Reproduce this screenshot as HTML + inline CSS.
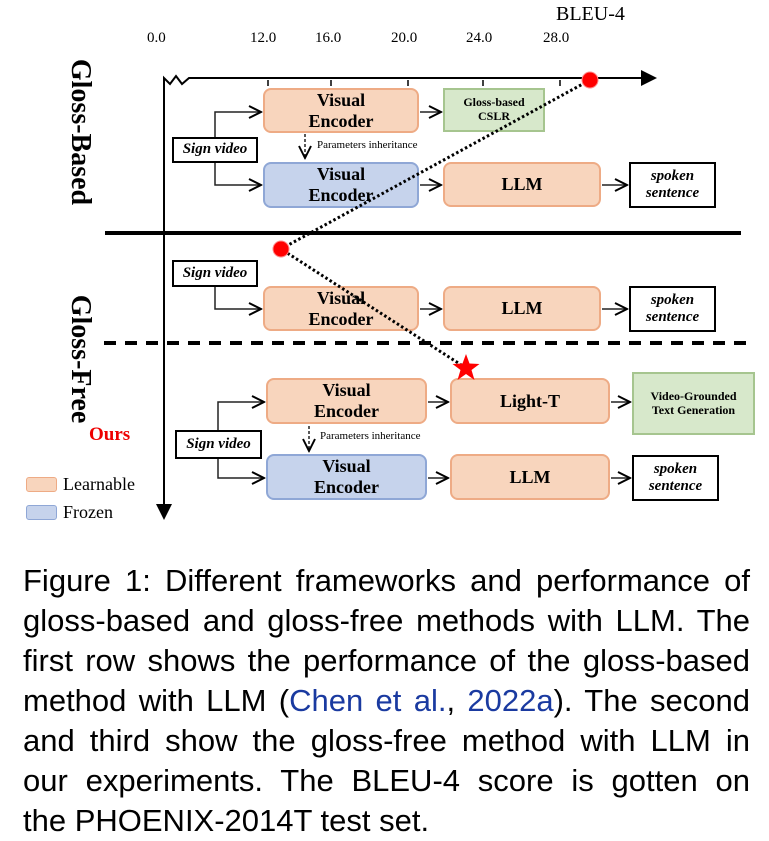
<!DOCTYPE html>
<html><head><style>
body{margin:0;background:#fff;width:769px;height:840px;position:relative;overflow:hidden;font-family:"Liberation Serif",serif}
.b{position:absolute;box-sizing:border-box;display:flex;align-items:center;justify-content:center;text-align:center;font-weight:bold;line-height:1.15}
.o{background:#f8d5bd;border:2px solid #eeab85;border-radius:8px;font-size:18px}
.bl{background:#c6d3ec;border:2px solid #8fa7d6;border-radius:8px;font-size:18px}
.g{background:#d7e8cb;border:2px solid #a6c58f;font-size:12px}
.w{background:#fff;border:2px solid #000;font-style:italic;font-size:15px}
.t{position:absolute;white-space:nowrap}
.cap{position:absolute;left:23px;font-family:"Liberation Sans",sans-serif;font-size:31px;line-height:40px;top:561px;width:727px;color:#000}
.cap div{text-align:justify;text-align-last:justify;white-space:nowrap}
.cap div.l{text-align-last:left}
</style></head><body>
<svg width="769" height="540" style="position:absolute;left:0;top:0">
<defs><marker id="a" markerWidth="10" markerHeight="10" refX="9" refY="5" orient="auto"><path d="M1,1 L9,5 L1,9" fill="none" stroke="#000" stroke-width="1.3"/></marker>
<marker id="A" markerWidth="8" markerHeight="8" refX="7" refY="4" orient="auto"><path d="M0,0 L8,4 L0,8z" fill="#000"/></marker></defs>
<g stroke="#000" stroke-width="2" fill="none">
<path d="M164,518 V78 L170,84 L176,76 L182,84 L189,78 H655" marker-end="url(#A)"/>
<path d="M164,505 V518" marker-end="url(#A)"/>
</g>
<g stroke="#000" stroke-width="1.5"><line x1="268" y1="80" x2="268" y2="86"/><line x1="331" y1="80" x2="331" y2="86"/><line x1="408" y1="80" x2="408" y2="86"/><line x1="483" y1="80" x2="483" y2="86"/><line x1="560" y1="80" x2="560" y2="86"/></g>
<line x1="105" y1="233" x2="741" y2="233" stroke="#000" stroke-width="4"/>
<line x1="104" y1="343" x2="748" y2="343" stroke="#000" stroke-width="4" stroke-dasharray="12,9"/>
<g stroke="#222" stroke-width="1.5" fill="none">
<path d="M215,137 V112 H261" marker-end="url(#a)"/><path d="M215,162 V185 H261" marker-end="url(#a)"/>
<path d="M420,112 H441" marker-end="url(#a)"/><path d="M420,185 H441" marker-end="url(#a)"/><path d="M602,185 H627" marker-end="url(#a)"/>
<path d="M215,287 V309 H261" marker-end="url(#a)"/><path d="M420,309 H441" marker-end="url(#a)"/><path d="M602,309 H627" marker-end="url(#a)"/>
<path d="M218,430 V402 H264" marker-end="url(#a)"/><path d="M218,458 V478 H264" marker-end="url(#a)"/>
<path d="M428,402 H448" marker-end="url(#a)"/><path d="M611,402 H630" marker-end="url(#a)"/><path d="M428,478 H448" marker-end="url(#a)"/><path d="M611,478 H630" marker-end="url(#a)"/>
<path d="M305,134 V158" stroke-dasharray="3,2" marker-end="url(#a)"/><path d="M309,426 V451" stroke-dasharray="3,2" marker-end="url(#a)"/>
</g>
</svg>
<div class="t" style="left:147px;top:30px;font-size:15px">0.0</div>
<div class="t" style="left:250px;top:30px;font-size:15px">12.0</div>
<div class="t" style="left:315px;top:30px;font-size:15px">16.0</div>
<div class="t" style="left:391px;top:30px;font-size:15px">20.0</div>
<div class="t" style="left:466px;top:30px;font-size:15px">24.0</div>
<div class="t" style="left:543px;top:30px;font-size:15px">28.0</div>
<div class="t" style="left:556px;top:3px;font-size:20px">BLEU-4</div>
<div class="t" style="left:0px;top:116px;font-size:28px;font-weight:bold;transform:rotate(90deg);width:160px;text-align:center">Gloss-Based</div>
<div class="t" style="left:0px;top:343px;font-size:28px;font-weight:bold;transform:rotate(90deg);width:160px;text-align:center">Gloss-Free</div>
<div class="t" style="left:89px;top:424px;font-size:19px;font-weight:bold;color:#e00">Ours</div>
<div class="b o" style="left:263px;top:88px;width:156px;height:45px">Visual<br>Encoder</div>
<div class="b g" style="left:443px;top:88px;width:102px;height:44px">Gloss-based<br>CSLR</div>
<div class="t" style="left:317px;top:139px;font-size:11px">Parameters inheritance</div>
<div class="b w" style="left:172px;top:137px;width:86px;height:26px">Sign video</div>
<div class="b bl" style="left:263px;top:162px;width:156px;height:46px">Visual<br>Encoder</div>
<div class="b o" style="left:443px;top:162px;width:158px;height:45px">LLM</div>
<div class="b w" style="left:629px;top:162px;width:87px;height:46px">spoken<br>sentence</div>
<div class="b w" style="left:172px;top:260px;width:86px;height:27px">Sign video</div>
<div class="b o" style="left:263px;top:286px;width:156px;height:45px">Visual<br>Encoder</div>
<div class="b o" style="left:443px;top:286px;width:158px;height:45px">LLM</div>
<div class="b w" style="left:629px;top:286px;width:87px;height:46px">spoken<br>sentence</div>
<div class="b o" style="left:266px;top:378px;width:161px;height:46px">Visual<br>Encoder</div>
<div class="b o" style="left:450px;top:378px;width:160px;height:46px">Light-T</div>
<div class="b g" style="left:632px;top:372px;width:123px;height:63px">Video-Grounded<br>Text Generation</div>
<div class="t" style="left:320px;top:430px;font-size:11px">Parameters inheritance</div>
<div class="b w" style="left:175px;top:430px;width:87px;height:29px">Sign video</div>
<div class="b bl" style="left:266px;top:454px;width:161px;height:46px">Visual<br>Encoder</div>
<div class="b o" style="left:450px;top:454px;width:160px;height:46px">LLM</div>
<div class="b w" style="left:632px;top:455px;width:87px;height:46px">spoken<br>sentence</div>
<div style="position:absolute;left:26px;top:477px;width:31px;height:15px;background:#f8d5bd;border:1.5px solid #eeab85;border-radius:3px;box-sizing:border-box"></div>
<div class="t" style="left:63px;top:474px;font-size:18px">Learnable</div>
<div style="position:absolute;left:26px;top:505px;width:31px;height:15px;background:#c6d3ec;border:1.5px solid #8fa7d6;border-radius:3px;box-sizing:border-box"></div>
<div class="t" style="left:63px;top:502px;font-size:18px">Frozen</div>
<svg width="769" height="540" style="position:absolute;left:0;top:0">
<path d="M590,80 L281,249 L466,368" fill="none" stroke="#000" stroke-width="3" stroke-dasharray="2.5,2.5"/>
<circle cx="590" cy="80" r="8" fill="#f00" stroke="#f88" stroke-width="1"/>
<circle cx="281" cy="249" r="8" fill="#f00" stroke="#f88" stroke-width="1"/>
<polygon points="466,354 469.5,363.5 479.5,364 471.5,370 474.5,380 466,374 457.5,380 460.5,370 452.5,364 462.5,363.5" fill="#f00"/>
</svg>
<div class="cap">
<div>Figure 1: Different frameworks and performance of</div>
<div>gloss-based and gloss-free methods with LLM. The</div>
<div>first row shows the performance of the gloss-based</div>
<div>method with LLM (<span style="color:#1a3aa0">Chen et al.</span>, <span style="color:#1a3aa0">2022a</span>). The second</div>
<div>and third show the gloss-free method with LLM in</div>
<div>our experiments. The BLEU-4 score is gotten on</div>
<div class="l">the PHOENIX-2014T test set.</div>
</div>
</body></html>
